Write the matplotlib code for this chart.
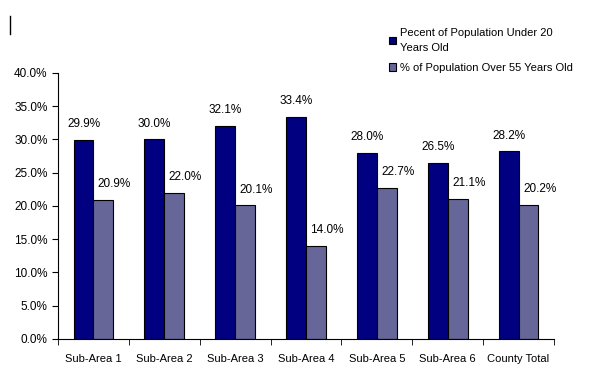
import matplotlib
matplotlib.use("Agg")
import matplotlib.pyplot as plt
import numpy as np
from matplotlib.lines import Line2D
from matplotlib.ticker import FuncFormatter, MultipleLocator

categories = ["Sub-Area 1", "Sub-Area 2", "Sub-Area 3", "Sub-Area 4",
              "Sub-Area 5", "Sub-Area 6", "County Total"]
under20 = [29.9, 30.0, 32.1, 33.4, 28.0, 26.5, 28.2]
over55 = [20.9, 22.0, 20.1, 14.0, 22.7, 21.1, 20.2]
series_names = ["Pecent of Population Under 20\nYears Old",
                "% of Population Over 55 Years Old"]

NAVY, SLATE = "#000080", "#666699"

plt.rcParams.update({"font.family": ["Liberation Sans", "DejaVu Sans"], "font.size": 8})

fig = plt.figure(figsize=(6.0, 3.77), dpi=100)
ax = fig.add_axes([0.0967, 0.1008, 0.8266, 0.7056])

x = np.arange(len(categories))
w = 0.28
b1 = ax.bar(x - w / 2, under20, w, color=NAVY, edgecolor="black", linewidth=0.8,
            label=series_names[0])
b2 = ax.bar(x + w / 2, over55, w, color=SLATE, edgecolor="black", linewidth=0.8,
            label=series_names[1])

# gray-series labels sit a bit right of their bars, as in the original
for bars, vals, dx in ((b1, under20, 0), (b2, over55, 8)):
    for b, v in zip(bars, vals):
        ax.annotate(f"{v:.1f}%", (b.get_x() + b.get_width() / 2, v),
                    xytext=(dx, 7), textcoords="offset points",
                    ha="center", va="bottom", fontsize=8.5)

ax.set_xlim(-0.5, len(categories) - 0.5)
ax.set_ylim(0, 40)
ax.yaxis.set_major_locator(MultipleLocator(5))
ax.yaxis.set_major_formatter(FuncFormatter(lambda v, _: f"{v:.1f}%"))
ax.set_xticks(x)
ax.set_xticklabels(categories)
ax.set_xticks(np.arange(-0.5, len(categories)), minor=True)
ax.tick_params(axis="x", which="major", length=0, pad=11)
ax.tick_params(axis="x", which="minor", length=4, direction="out")
ax.tick_params(axis="y", length=4, direction="out", labelsize=8.5)
for s in ("top", "right"):
    ax.spines[s].set_visible(False)

fig.legend(loc="upper left", bbox_to_anchor=(0.632, 0.952), frameon=False,
           handlelength=0.65, handleheight=0.65, handletextpad=0.3,
           labelspacing=0.9, fontsize=8)
for t in fig.legends[0].get_texts():
    t.set_linespacing(1.6)

fig.add_artist(Line2D([0.016, 0.016], [1 - 16 / 377, 1 - 34 / 377],
                      color="black", linewidth=1))

fig.savefig("out.png", dpi=100)
